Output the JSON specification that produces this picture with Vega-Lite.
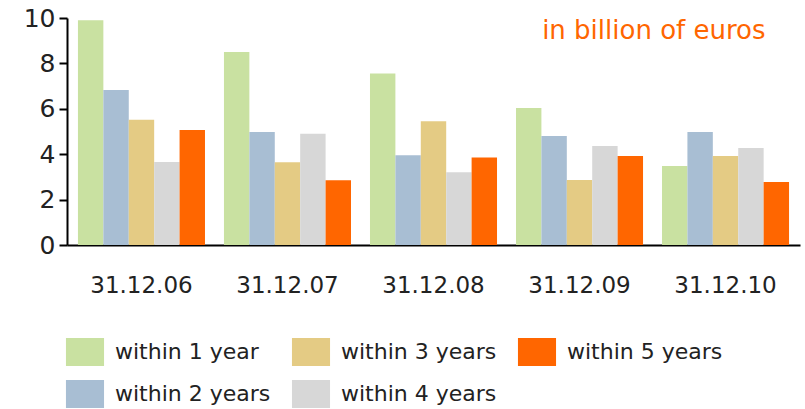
{
  "$schema": "https://vega.github.io/schema/vega-lite/v6.json",
  "width": 733,
  "height": 227,
  "autosize": {"type": "none"},
  "padding": {"left": 67, "top": 18, "right": 5, "bottom": 164},
  "background": "white",
  "data": {
    "values": [
      {"date": "31.12.06", "term": "within 1 year", "value": 9.9},
      {"date": "31.12.06", "term": "within 2 years", "value": 6.83},
      {"date": "31.12.06", "term": "within 3 years", "value": 5.52},
      {"date": "31.12.06", "term": "within 4 years", "value": 3.66},
      {"date": "31.12.06", "term": "within 5 years", "value": 5.07},
      {"date": "31.12.07", "term": "within 1 year", "value": 8.5},
      {"date": "31.12.07", "term": "within 2 years", "value": 4.98},
      {"date": "31.12.07", "term": "within 3 years", "value": 3.65},
      {"date": "31.12.07", "term": "within 4 years", "value": 4.9},
      {"date": "31.12.07", "term": "within 5 years", "value": 2.85},
      {"date": "31.12.08", "term": "within 1 year", "value": 7.55},
      {"date": "31.12.08", "term": "within 2 years", "value": 3.95},
      {"date": "31.12.08", "term": "within 3 years", "value": 5.45},
      {"date": "31.12.08", "term": "within 4 years", "value": 3.2},
      {"date": "31.12.08", "term": "within 5 years", "value": 3.85},
      {"date": "31.12.09", "term": "within 1 year", "value": 6.03},
      {"date": "31.12.09", "term": "within 2 years", "value": 4.8},
      {"date": "31.12.09", "term": "within 3 years", "value": 2.86},
      {"date": "31.12.09", "term": "within 4 years", "value": 4.36},
      {"date": "31.12.09", "term": "within 5 years", "value": 3.92},
      {"date": "31.12.10", "term": "within 1 year", "value": 3.48},
      {"date": "31.12.10", "term": "within 2 years", "value": 4.98},
      {"date": "31.12.10", "term": "within 3 years", "value": 3.92},
      {"date": "31.12.10", "term": "within 4 years", "value": 4.27},
      {"date": "31.12.10", "term": "within 5 years", "value": 2.78}
    ]
  },
  "layer": [
    {
      "mark": {"type": "bar"},
      "encoding": {
        "x": {
          "field": "date",
          "type": "nominal",
          "scale": {"paddingInner": 0.13, "paddingOuter": 0.075},
          "axis": {
            "title": null,
            "labelAngle": 0,
            "ticks": false,
            "domainColor": "#000000",
            "domainWidth": 2,
            "labelPadding": 29,
            "labelFont": "DejaVu Sans",
            "labelFontSize": 23,
            "labelColor": "#222222",
            "labelBaseline": "top"
          }
        },
        "xOffset": {
          "field": "term",
          "type": "nominal",
          "sort": ["within 1 year", "within 2 years", "within 3 years", "within 4 years", "within 5 years"],
          "scale": {"paddingInner": 0, "paddingOuter": 0}
        },
        "y": {
          "field": "value",
          "type": "quantitative",
          "scale": {"domain": [0, 10], "nice": false},
          "axis": {
            "title": null,
            "values": [0, 2, 4, 6, 8, 10],
            "grid": false,
            "domainColor": "#000000",
            "domainWidth": 2,
            "tickColor": "#000000",
            "tickWidth": 2,
            "tickSize": 8,
            "labelPadding": 4,
            "labelFont": "DejaVu Sans",
            "labelFontSize": 25,
            "labelColor": "#222222"
          }
        },
        "color": {
          "field": "term",
          "type": "nominal",
          "scale": {
            "domain": ["within 1 year", "within 2 years", "within 3 years", "within 4 years", "within 5 years"],
            "range": ["#c9e1a1", "#a8bed3", "#e4cb84", "#d7d7d7", "#ff6600"]
          },
          "legend": {
            "title": null,
            "orient": "none",
            "legendX": 4,
            "legendY": 320,
            "columns": 3,
            "gridAlign": "all",
            "columnPadding": 20,
            "rowPadding": 14,
            "symbolType": "M-1.36,-1L1.36,-1L1.36,1L-1.36,1Z",
            "symbolSize": 784,
            "symbolStrokeWidth": 0,
            "symbolOpacity": 1,
            "labelOffset": 16,
            "labelFont": "DejaVu Sans",
            "labelFontSize": 22,
            "labelColor": "#222222",
            "labelLimit": 300
          }
        }
      }
    },
    {
      "data": {"values": [{"note": "in billion of euros"}]},
      "mark": {
        "type": "text",
        "align": "right",
        "baseline": "alphabetic",
        "dx": 40,
        "color": "#ff6600",
        "font": "DejaVu Sans",
        "fontSize": 26
      },
      "encoding": {
        "x": {"datum": "31.12.10", "type": "nominal"},
        "y": {"datum": 9.07, "type": "quantitative"},
        "text": {"field": "note", "type": "nominal"}
      }
    }
  ],
  "config": {
    "view": {"stroke": null}
  }
}
